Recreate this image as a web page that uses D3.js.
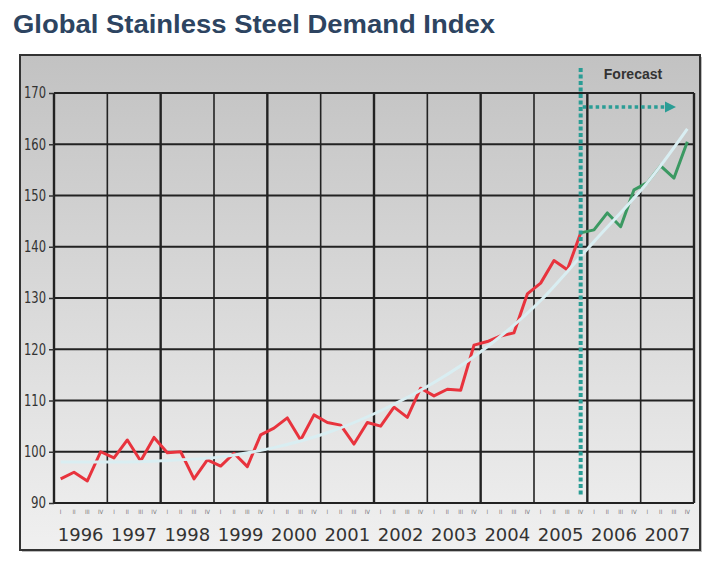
<!DOCTYPE html>
<html>
<head>
<meta charset="utf-8">
<script src="https://cdn.jsdelivr.net/npm/d3@7"></script>
<style>
    body { margin: 0; background: #fff; }
    svg { display: block; }
</style>
</head>
<body>
<svg id="chart" width="721" height="571"></svg>
<script>
// years on the x axis, each split in four quarters
const years = [1996, 1997, 1998, 1999, 2000, 2001, 2002, 2003, 2004, 2005, 2006, 2007];
const quarters = ['I', 'II', 'III', 'IV'];
const yTicks = [90, 100, 110, 120, 130, 140, 150, 160, 170];

// actual index, 1996 Q1 .. 2005 Q4
const actual = [
    94.7, 96.0, 94.3, 100.0,
    98.8, 102.3, 98.2, 102.8,
    99.8, 100.0, 94.7, 98.4,
    97.2, 99.7, 97.1, 103.3,
    104.6, 106.6, 102.3, 107.2,
    105.7, 105.2, 101.5, 105.7,
    105.0, 108.7, 106.7, 112.4,
    110.9, 112.2, 112.0, 120.8,
    121.5, 122.6, 123.2, 130.8,
    132.9, 137.3, 135.5, 142.7
];
// forecast, 2005 Q4 .. 2007 Q4
const forecast = [142.7, 143.3, 146.6, 143.9, 151.1, 152.5, 155.8, 153.4, 160.5];
// trend read at some quarters: [quarter index from 1996 Q1, value]
const trend = [
    [0, 98.0], [4, 98.0], [8, 98.3], [12, 99.0], [16, 100.8], [20, 103.7],
    [24, 108.0], [28, 113.5], [32, 120.5], [36, 129.5], [39, 138.1],
    [40, 141.0], [43, 149.5], [44, 152.5], [47, 163.0]
];
const forecastStart = 39;

const svg = d3.select('#chart');
const frame = {x: 20, y: 55, w: 680, h: 495};
const m = {left: 54, right: 694, top: 93, bottom: 503};

const defs = svg.append('defs');
const grad = defs.append('linearGradient')
    .attr('id', 'bg').attr('x1', 0).attr('y1', 0).attr('x2', 0).attr('y2', 1);
grad.append('stop').attr('offset', '0%').attr('stop-color', '#c2c2c2');
grad.append('stop').attr('offset', '100%').attr('stop-color', '#f0f0f0');

defs.append('marker')
    .attr('id', 'arrow').attr('viewBox', '0 0 10 10')
    .attr('refX', 1).attr('refY', 5)
    .attr('markerWidth', 3.2).attr('markerHeight', 3.2)
    .attr('orient', 'auto')
    .append('path').attr('d', 'M0,0L10,5L0,10Z').attr('fill', '#2a9d95');

// title
svg.append('text')
    .attr('x', 13).attr('y', 33)
    .attr('font-family', 'Liberation Sans, Arial, sans-serif')
    .attr('font-weight', 'bold')
    .attr('font-size', 26)
    .attr('fill', '#2d4461')
    .attr('textLength', 482)
    .attr('lengthAdjust', 'spacingAndGlyphs')
    .text('Global Stainless Steel Demand Index');

// frame with shadow
svg.append('rect')
    .attr('x', frame.x + 2).attr('y', frame.y + 2)
    .attr('width', frame.w).attr('height', frame.h)
    .attr('fill', '#bbb');
svg.append('rect')
    .attr('x', frame.x).attr('y', frame.y)
    .attr('width', frame.w).attr('height', frame.h)
    .attr('fill', 'url(#bg)')
    .attr('stroke', '#333').attr('stroke-width', 2);

const x = d3.scaleLinear().domain([0, years.length]).range([m.left, m.right]);
const y = d3.scaleLinear().domain([90, 170]).range([m.bottom, m.top]);
const qx = i => x((i + 0.5) / 4);

// grid
const g = svg.append('g');
g.selectAll('.vgrid')
    .data(d3.range(years.length + 1))
    .join('line')
    .attr('x1', d => x(d)).attr('x2', d => x(d))
    .attr('y1', m.top).attr('y2', m.bottom)
    .attr('stroke', '#222')
    .attr('stroke-width', d => (d % 2 === 0 ? 2.4 : 1.6));
g.selectAll('.hgrid')
    .data(yTicks)
    .join('line')
    .attr('x1', m.left).attr('x2', m.right)
    .attr('y1', d => y(d)).attr('y2', d => y(d))
    .attr('stroke', '#222')
    .attr('stroke-width', 2);

// y axis
const yAxis = svg.append('g')
    .attr('transform', `translate(${m.left},0)`)
    .call(d3.axisLeft(y).tickValues(yTicks).tickSize(5).tickPadding(3));
yAxis.select('.domain').remove();
yAxis.selectAll('line').attr('stroke', '#333').attr('stroke-width', 1.5);
yAxis.selectAll('text')
    .attr('font-family', 'DejaVu Sans Condensed, DejaVu Sans, sans-serif')
    .attr('font-size', 15.5)
    .attr('textLength', 22)
    .attr('lengthAdjust', 'spacingAndGlyphs')
    .attr('fill', '#333');
yAxis.selectAll('.tick').filter(d => d < 100).select('text').attr('textLength', 15);

// quarter labels
const qIdx = d3.range(years.length * 4);
svg.append('g').selectAll('text')
    .data(qIdx)
    .join('text')
    .attr('x', d => qx(d)).attr('y', 514)
    .attr('text-anchor', 'middle')
    .attr('font-family', 'DejaVu Sans Condensed, sans-serif')
    .attr('font-size', 6)
    .attr('fill', '#777')
    .text(d => quarters[d % 4]);

// year labels
svg.append('g').selectAll('text')
    .data(years)
    .join('text')
    .attr('x', (d, i) => x(i + 0.5)).attr('y', 541)
    .attr('text-anchor', 'middle')
    .attr('font-family', 'DejaVu Sans, sans-serif')
    .attr('font-size', 18)
    .attr('fill', '#333')
    .text(d => d);

const line = d3.line().x(d => qx(d[0])).y(d => y(d[1]));

svg.append('path')
    .datum(actual.map((v, i) => [i, v]))
    .attr('d', line)
    .attr('fill', 'none')
    .attr('stroke', '#e8333d')
    .attr('stroke-width', 3)
    .attr('stroke-linejoin', 'round');

svg.append('path')
    .datum(forecast.map((v, i) => [i + forecastStart, v]))
    .attr('d', line)
    .attr('fill', 'none')
    .attr('stroke', '#3b9962')
    .attr('stroke-width', 3)
    .attr('stroke-linejoin', 'round');

svg.append('path')
    .datum(trend)
    .attr('d', line.curve(d3.curveMonotoneX))
    .attr('fill', 'none')
    .attr('stroke', '#d9eef2')
    .attr('stroke-width', 3);

// forecast marker
const fx = qx(forecastStart);
svg.append('line')
    .attr('x1', fx).attr('x2', fx)
    .attr('y1', 68).attr('y2', 497)
    .attr('stroke', '#2a9d95')
    .attr('stroke-width', 4)
    .attr('stroke-dasharray', '4,2.5');
svg.append('line')
    .attr('x1', fx + 2).attr('x2', 666)
    .attr('y1', 107).attr('y2', 107)
    .attr('stroke', '#2a9d95')
    .attr('stroke-width', 3.5)
    .attr('stroke-dasharray', '3.5,3')
    .attr('marker-end', 'url(#arrow)');
svg.append('text')
    .attr('x', 633).attr('y', 79)
    .attr('text-anchor', 'middle')
    .attr('font-family', 'Liberation Sans, Arial, sans-serif')
    .attr('font-weight', 'bold')
    .attr('font-size', 14)
    .attr('fill', '#333')
    .text('Forecast');
</script>
</body>
</html>
